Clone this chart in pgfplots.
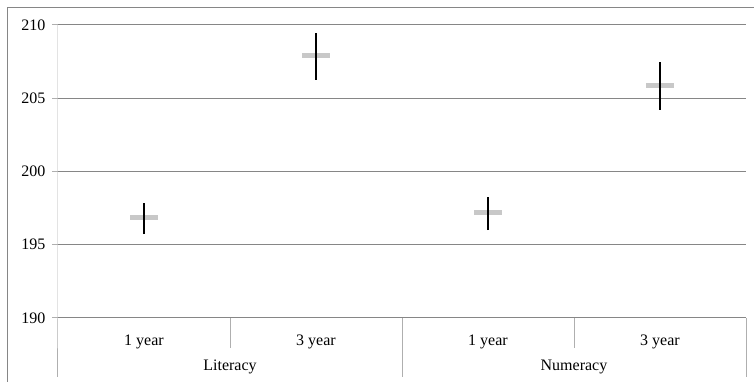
\documentclass[border=0pt]{standalone}
\usepackage{fontspec}
\setmainfont{Liberation Serif}
\usepackage{pgfplots}
\pgfplotsset{compat=1.18}
\definecolor{gridc}{RGB}{134,134,134}
\definecolor{axc}{RGB}{175,175,175}
\definecolor{meanc}{RGB}{200,200,200}
\begin{document}
\begin{tikzpicture}[x=1pt,y=1pt]
\useasboundingbox (0,0) rectangle (754,382);
\draw[gridc, line width=1pt] (7.5,0) -- (7.5,374.5) -- (754,374.5);
\begin{axis}[
  at={(58pt,64pt)}, anchor=south west, scale only axis,
  width=688pt, height=293pt,
  xmin=-0.5, xmax=3.5, ymin=190, ymax=210,
  ytick={190,195,200,205,210},
  xtick={0,1,2,3}, xticklabels={1 year,3 year,1 year,3 year},
  axis line style={draw=none},
  ymajorgrids, grid style={gridc, line width=1pt},
  tick pos=left, tick align=outside,
  ytick style={axc, line width=1pt}, major tick length=6pt,
  xtick style={draw=none},
  /pgf/number format/assume math mode=true,
  yticklabel style={font=\fontsize{16}{19}\selectfont, xshift=-3pt},
  xticklabel style={font=\fontsize{16}{19}\selectfont, anchor=center, yshift=-18pt},
  unbounded coords=jump,
  clip=false,
]
% mean markers (short horizontal bars)
\addplot[meanc, line width=5pt, mark=none] coordinates {
  (-0.081,196.85) (0.081,196.85) (nan,nan)
  (0.919,207.9) (1.081,207.9) (nan,nan)
  (1.919,197.17) (2.081,197.17) (nan,nan)
  (2.919,205.9) (3.081,205.9)
};
% confidence intervals (low, high), drawn on top
\addplot[black, line width=2.5pt, mark=none] coordinates {
  (0,195.73) (0,197.83) (nan,nan)
  (1,206.25) (1,209.47) (nan,nan)
  (2,196.0) (2,198.24) (nan,nan)
  (3,204.2) (3,207.5)
};
\draw[axc, line width=1pt] (axis cs:-0.5,210) -- (axis cs:-0.5,190) -- ++(0pt,-59pt);
\draw[axc, line width=1pt] (axis cs:0.5,190) -- ++(0pt,-30pt);
\draw[axc, line width=1pt] (axis cs:1.5,190) -- ++(0pt,-59pt);
\draw[axc, line width=1pt] (axis cs:2.5,190) -- ++(0pt,-30pt);
\draw[axc, line width=1pt] (axis cs:3.5,190) -- ++(0pt,-59pt);
\node[font=\fontsize{16}{19}\selectfont] at ([yshift=-49pt]axis cs:0.5,190) {Literacy};
\node[font=\fontsize{16}{19}\selectfont] at ([yshift=-49pt]axis cs:2.5,190) {Numeracy};
\end{axis}
\end{tikzpicture}
\end{document}
